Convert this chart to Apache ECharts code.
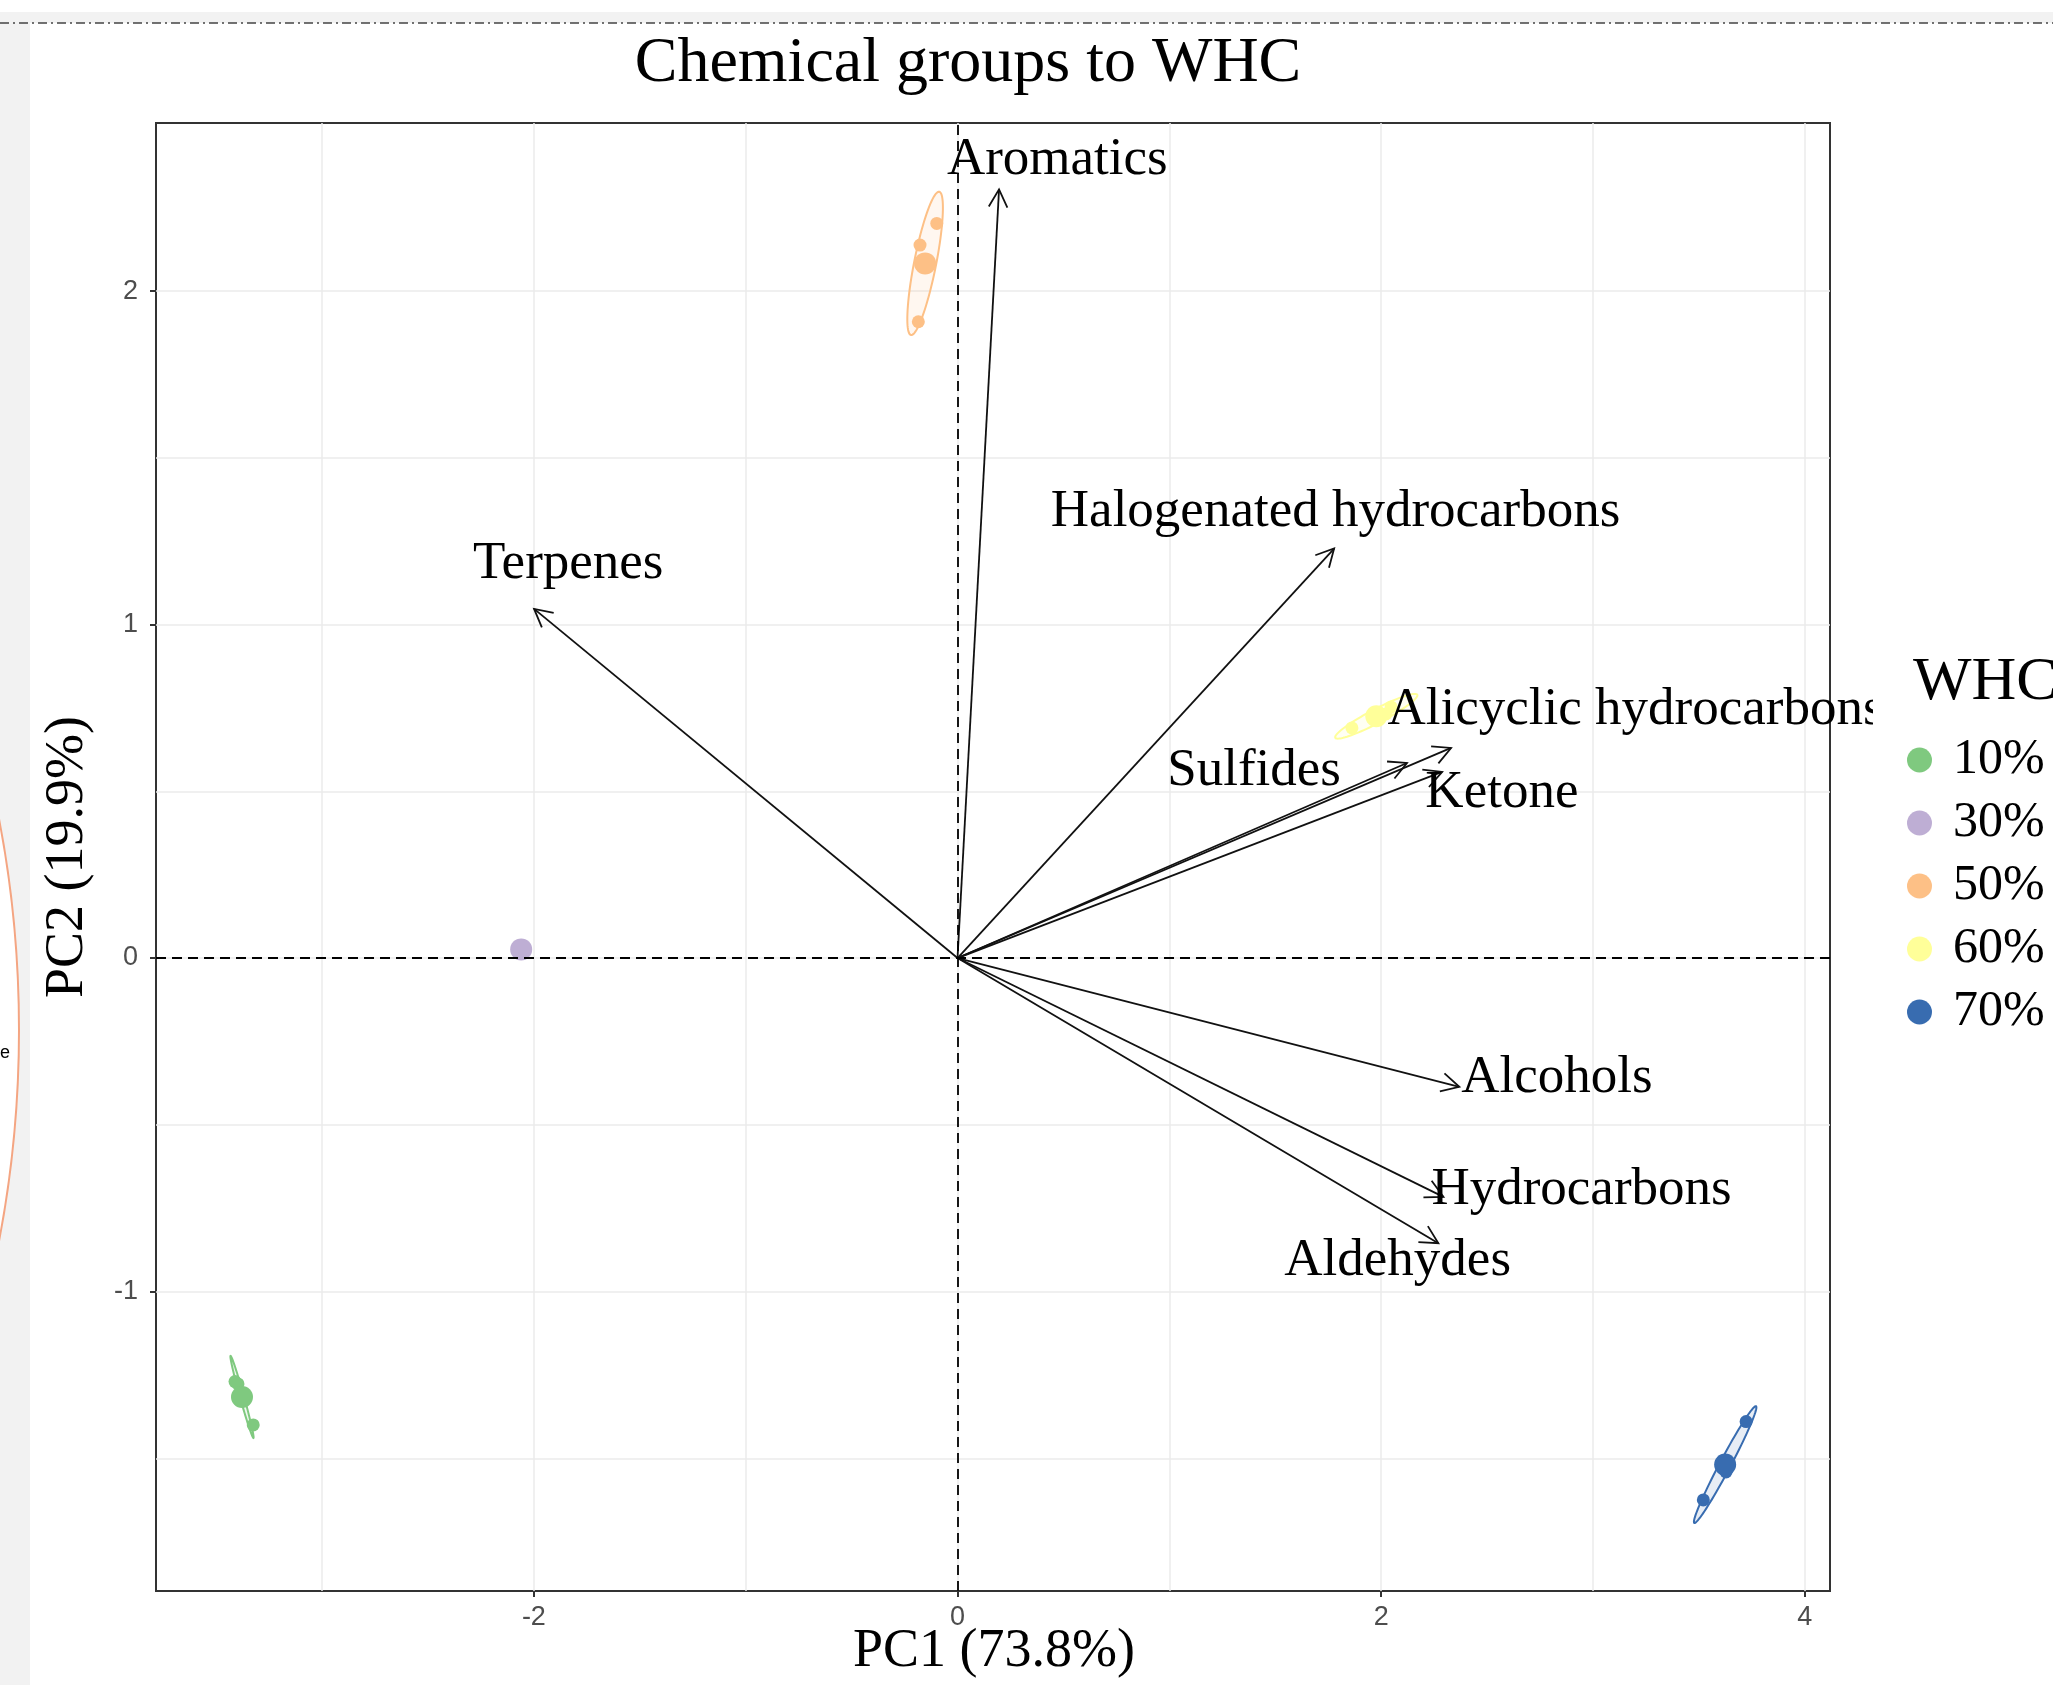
<!DOCTYPE html>
<html><head><meta charset="utf-8">
<script src="https://cdn.jsdelivr.net/npm/echarts@6/dist/echarts.min.js"></script>
<style>html,body{margin:0;padding:0;background:#fff}#c{width:2053px;height:1685px}</style>
</head><body><div id="c"></div>
<script>
// ---- variable loadings (arrows) ----
const variables = ['Aromatics','Halogenated hydrocarbons','Terpenes','Alicyclic hydrocarbons','Sulfides','Ketone','Alcohols','Hydrocarbons','Aldehydes'];
const loadPC1 = [0.196, 1.778, -1.999, 2.330, 2.122, 2.288, 2.369, 2.294, 2.270];
const loadPC2 = [2.305, 1.228, 1.047, 0.630, 0.585, 0.558, -0.386, -0.716, -0.855];
const labelPC1 = [0.471, 1.785, -1.838, 3.201, 1.400, 2.570, 2.830, 2.946, 2.078];
const labelPC2 = [2.394, 1.337, 1.180, 0.745, 0.561, 0.494, -0.359, -0.696, -0.908];

// ---- groups (individuals) ----
const groups = ['10%','30%','50%','60%','70%'];
const groupColors = ['#7FC97F','#BEAED4','#FDC086','#FFFF99','#386CB0'];
const g10PC1 = [-3.411, -3.397, -3.325], g10PC2 = [-1.270, -1.277, -1.400];
const g30PC1 = [-2.060, -2.060, -2.060], g30PC2 = [0.026, 0.026, 0.026];
const g50PC1 = [-0.098, -0.177, -0.185], g50PC2 = [2.203, 2.138, 1.908];
const g60PC1 = [2.047, 2.023, 1.862],   g60PC2 = [0.753, 0.732, 0.690];
const g70PC1 = [3.723, 3.628, 3.521],   g70PC2 = [-1.390, -1.541, -1.625];
// group means
const meanPC1 = [-3.378, -2.060, -0.153, 1.977, 3.624];
const meanPC2 = [-1.316, 0.026, 2.083, 0.725, -1.519];
// confidence ellipses: conjugate half-axes (data units) around the mean
const ellAx = [-0.054, 0, 0.0668, 0.1936, 0.1457];
const ellAy = [0.123, 0, 0.2148, 0.0645, 0.175];
const ellBx = [0.0091, 0, 0.051, 0.0153, 0.0229];
const ellBy = [0.0016, 0, -0.0064, -0.0186, -0.0077];

// ---- axes ----
const xTickValues = [-2, 0, 2, 4];
const yTickValues = [-1, 0, 1, 2];
const xGridValues = [-3, -2, -1, 0, 1, 2, 3, 4];
const yGridValues = [-1.5, -1, -0.5, 0, 0.5, 1, 1.5, 2];
const X_MIN = -3.784, X_MAX = 4.119, Y_MIN = -1.898, Y_MAX = 2.504;

const SERIF = "'Liberation Serif','Times New Roman',serif";
const SANS = "'Liberation Sans',Arial,sans-serif";
const indPC1 = [g10PC1, g30PC1, g50PC1, g60PC1, g70PC1];
const indPC2 = [g10PC2, g30PC2, g50PC2, g60PC2, g70PC2];

function rgba(hex, a){
  const n = parseInt(hex.slice(1), 16);
  return 'rgba(' + ((n>>16)&255) + ',' + ((n>>8)&255) + ',' + (n&255) + ',' + a + ')';
}

const series = [];
groups.forEach((g, gi) => {
  series.push({
    name: g, type: 'scatter', xAxisIndex: 0, yAxisIndex: 0, z: 3,
    symbolSize: 13,
    itemStyle: {color: groupColors[gi], opacity: 1},
    data: indPC1[gi].map((v, k) => [v, indPC2[gi][k]]),
    markLine: gi === 0 ? {
      silent: true, symbol: ['none','none'], label: {show: false},
      lineStyle: {color: '#000', type: [10, 6], width: 1.8},
      emphasis: {disabled: true},
      data: [{xAxis: 0}, {yAxis: 0}]
    } : undefined
  });
});
groups.forEach((g, gi) => {
  series.push({
    name: g, type: 'scatter', z: 3,
    symbolSize: 22,
    itemStyle: {color: groupColors[gi], opacity: 1},
    data: [[meanPC1[gi], meanPC2[gi]]]
  });
});
groups.forEach((g, gi) => {
  series.push({
    name: g, type: 'custom', z: 2, clip: false,
    itemStyle: {color: groupColors[gi]},
    encode: {x: 0, y: 1},
    data: [[meanPC1[gi], meanPC2[gi], ellAx[gi], ellAy[gi], ellBx[gi], ellBy[gi]]],
    renderItem: function(params, api){
      const cx = api.value(0), cy = api.value(1);
      const ax = api.value(2), ay = api.value(3), bx = api.value(4), by = api.value(5);
      if (!ax && !ay) return null;
      const pts = [];
      for (let k = 0; k < 90; k++) {
        const t = k / 90 * 2 * Math.PI;
        pts.push(api.coord([cx + ax*Math.cos(t) + bx*Math.sin(t), cy + ay*Math.cos(t) + by*Math.sin(t)]));
      }
      return {type: 'polygon', shape: {points: pts},
        style: {fill: rgba(groupColors[gi], 0.12), stroke: groupColors[gi], lineWidth: 2}};
    }
  });
});
series.push({
  name: 'loadings', type: 'custom', z: 4, clip: false,
  encode: {x: 0, y: 1},
  data: loadPC1.map((v, i) => [v, loadPC2[i], labelPC1[i], labelPC2[i]]),
  renderItem: function(params, api){
    const i = params.dataIndex;
    const o = api.coord([0, 0]);
    const p = api.coord([api.value(0), api.value(1)]);
    const ang = Math.atan2(p[1]-o[1], p[0]-o[0]);
    const L = 20, A = Math.PI/6.5;
    const h1 = [p[0]-L*Math.cos(ang-A), p[1]-L*Math.sin(ang-A)];
    const h2 = [p[0]-L*Math.cos(ang+A), p[1]-L*Math.sin(ang+A)];
    const lp = api.coord([api.value(2), api.value(3)]);
    return {type: 'group', children: [
      {type: 'line', shape: {x1: o[0], y1: o[1], x2: p[0], y2: p[1]}, style: {stroke: '#111', lineWidth: 1.8}},
      {type: 'polyline', shape: {points: [h1, p, h2]}, style: {stroke: '#111', lineWidth: 1.8, fill: null}},
      {type: 'text', x: lp[0], y: lp[1], style: {text: variables[i], fontFamily: SERIF, fontSize: 53,
        fill: '#000', align: 'center', verticalAlign: 'middle'}}
    ]};
  }
});

const option = {
  animation: false,
  backgroundColor: '#fff',
  grid: {left: 156, right: 223, top: 123, bottom: 94, show: true,
    borderColor: '#333', borderWidth: 2, backgroundColor: '#fff'},
  xAxis: [
    {type: 'value', min: X_MIN, max: X_MAX, position: 'bottom', axisLine: {show: false, onZero: false},
     axisTick: {show: true, length: 6, lineStyle: {color: '#333', width: 2}, customValues: xTickValues},
     axisLabel: {customValues: xTickValues, color: '#4D4D4D', fontSize: 27, fontFamily: SANS, margin: 13},
     splitLine: {show: false}},
    {type: 'value', min: X_MIN, max: X_MAX, position: 'bottom', axisLine: {show: false, onZero: false},
     axisTick: {show: false, customValues: xGridValues}, axisLabel: {show: false},
     splitLine: {show: true, lineStyle: {color: '#EBEBEB', width: 1.5}}}
  ],
  yAxis: [
    {type: 'value', min: Y_MIN, max: Y_MAX, position: 'left', axisLine: {show: false, onZero: false},
     axisTick: {show: true, length: 6, lineStyle: {color: '#333', width: 2}, customValues: yTickValues},
     axisLabel: {customValues: yTickValues, color: '#4D4D4D', fontSize: 27, fontFamily: SANS, margin: 18},
     splitLine: {show: false}},
    {type: 'value', min: Y_MIN, max: Y_MAX, position: 'left', axisLine: {show: false, onZero: false},
     axisTick: {show: false, customValues: yGridValues}, axisLabel: {show: false},
     splitLine: {show: true, lineStyle: {color: '#EBEBEB', width: 1.5}}}
  ],
  legend: {
    data: groups, orient: 'vertical', left: 1907, top: 735, z: 6,
    itemWidth: 25, itemHeight: 25, itemGap: 13, icon: 'circle', padding: 0,
    textStyle: {fontFamily: SERIF, fontSize: 50, color: '#000', padding: [0, 0, 0, 16]},
    selectedMode: false
  },
  graphic: [
    {type: 'rect', z: -10, shape: {x: 0, y: 12, width: 2053, height: 11}, style: {fill: '#f2f2f2'}},
    {type: 'rect', z: -10, shape: {x: 0, y: 23, width: 30, height: 1662}, style: {fill: '#f2f2f2'}},
    {type: 'circle', z: -9, shape: {cx: -1096, cy: 1030, r: 1115}, style: {fill: '#fff', stroke: '#F4A582', lineWidth: 2}},
    {type: 'text', z: -8, x: 0, y: 1053, style: {text: 'e', fontFamily: SANS, fontSize: 18, fill: '#000', align: 'left', verticalAlign: 'middle'}},
    {type: 'line', z: 1, shape: {x1: 0, y1: 23, x2: 2053, y2: 23}, style: {stroke: '#444', lineWidth: 1.5, lineDash: [9, 4, 2, 4]}},
    {type: 'rect', z: 5, shape: {x: 1873, y: 124, width: 180, height: 1466}, style: {fill: '#fff'}},
    {type: 'text', z: 7, x: 968, y: 64, style: {text: 'Chemical groups to WHC', fontFamily: SERIF, fontSize: 64, fill: '#000', align: 'center', verticalAlign: 'middle'}},
    {type: 'text', z: 7, x: 994, y: 1652, style: {text: 'PC1 (73.8%)', fontFamily: SERIF, fontSize: 54, fill: '#000', align: 'center', verticalAlign: 'middle'}},
    {type: 'text', z: 7, x: 68, y: 857, rotation: Math.PI/2, style: {text: 'PC2 (19.9%)', fontFamily: SERIF, fontSize: 54, fill: '#000', align: 'center', verticalAlign: 'middle'}},
    {type: 'text', z: 7, x: 1913, y: 683, style: {text: 'WHC', fontFamily: SERIF, fontSize: 62, fill: '#000', align: 'left', verticalAlign: 'middle'}}
  ],
  series: series
};
const chart = echarts.init(document.getElementById('c'));
chart.setOption(option);
</script>
</body></html>
